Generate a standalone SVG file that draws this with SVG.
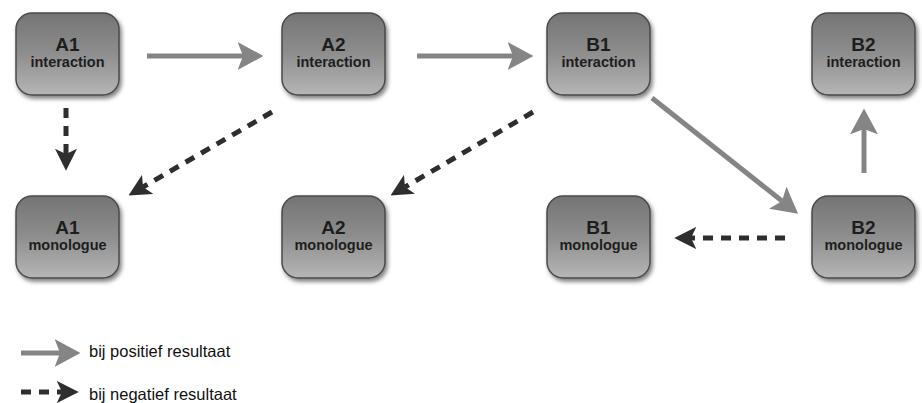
<svg xmlns="http://www.w3.org/2000/svg" width="922" height="403" viewBox="0 0 922 403">
<style>
.box{fill:url(#g);stroke:#4a4a4a;stroke-width:1.5;filter:url(#sh)}
.t1{font-family:"Liberation Sans",Arial,sans-serif;font-weight:bold;font-size:19px;fill:#1e1e1e;text-anchor:middle}
.t2{font-family:"Liberation Sans",Arial,sans-serif;font-weight:bold;font-size:14.5px;fill:#1e1e1e;text-anchor:middle}
.pos{stroke:#858585;stroke-width:5;fill:none;marker-end:url(#hp)}
.neg{stroke:#2e2e2e;stroke-width:5;fill:none;stroke-dasharray:10 8;marker-end:url(#hn)}
.lg{font-family:"Liberation Sans",Arial,sans-serif;font-size:16.5px;fill:#111}
</style>
<defs>
<linearGradient id="g" x1="0" y1="0" x2="0" y2="1">
<stop offset="0" stop-color="#747474"/>
<stop offset="0.5" stop-color="#8e8e8e"/>
<stop offset="1" stop-color="#b6b6b6"/>
</linearGradient>
<filter id="sh" x="-20%" y="-20%" width="150%" height="150%">
<feDropShadow dx="2" dy="3" stdDeviation="2" flood-color="#000" flood-opacity="0.5"/>
</filter>
<marker id="hp" markerUnits="userSpaceOnUse" markerWidth="26" markerHeight="28" viewBox="0 0 24 26" refX="5" refY="13" orient="auto">
<path d="M0,0 L24,13 L0,26 L5,13 Z" fill="#858585"/>
</marker>
<marker id="hn" markerUnits="userSpaceOnUse" markerWidth="22" markerHeight="22" viewBox="0 0 21 21" refX="5" refY="10.5" orient="auto">
<path d="M0,0 L21,10.5 L0,21 L5,10.5 Z" fill="#2e2e2e"/>
</marker>
</defs>

<g id="connectors">
<line class="pos" x1="147" y1="56" x2="243" y2="56"/>
<line class="pos" x1="417" y1="56" x2="513" y2="56"/>
<line class="pos" x1="652" y1="98" x2="782" y2="201"/>
<line class="pos" x1="864" y1="173" x2="864" y2="129"/>
<line class="neg" x1="66" y1="108" x2="66" y2="154"/>
<line class="neg" x1="272" y1="112" x2="143" y2="187"/>
<line class="neg" x1="533" y1="112" x2="405" y2="187"/>
<line class="neg" x1="785" y1="238" x2="691" y2="238"/>
</g>

<g id="A1_interaction"><rect class="box" x="16" y="13" width="103" height="82" rx="16"/><text class="t1" x="67.5" y="51">A1</text><text class="t2" x="67.5" y="67">interaction</text></g>
<g id="A2_interaction"><rect class="box" x="282" y="13" width="103" height="82" rx="16"/><text class="t1" x="333.5" y="51">A2</text><text class="t2" x="333.5" y="67">interaction</text></g>
<g id="B1_interaction"><rect class="box" x="547" y="13" width="103" height="82" rx="16"/><text class="t1" x="598.5" y="51">B1</text><text class="t2" x="598.5" y="67">interaction</text></g>
<g id="B2_interaction"><rect class="box" x="812" y="13" width="103" height="82" rx="16"/><text class="t1" x="863.5" y="51">B2</text><text class="t2" x="863.5" y="67">interaction</text></g>

<g id="A1_monologue"><rect class="box" x="16" y="196" width="103" height="82" rx="16"/><text class="t1" x="67.5" y="234">A1</text><text class="t2" x="67.5" y="250">monologue</text></g>
<g id="A2_monologue"><rect class="box" x="282" y="196" width="103" height="82" rx="16"/><text class="t1" x="333.5" y="234">A2</text><text class="t2" x="333.5" y="250">monologue</text></g>
<g id="B1_monologue"><rect class="box" x="547" y="196" width="103" height="82" rx="16"/><text class="t1" x="598.5" y="234">B1</text><text class="t2" x="598.5" y="250">monologue</text></g>
<g id="B2_monologue"><rect class="box" x="812" y="196" width="103" height="82" rx="16"/><text class="t1" x="863.5" y="234">B2</text><text class="t2" x="863.5" y="250">monologue</text></g>

<g id="legend">
<line class="pos" x1="21" y1="353" x2="60" y2="353"/>
<text class="lg" x="89" y="357">bij positief resultaat</text>
<line class="neg" x1="21" y1="392" x2="62" y2="392" stroke-dasharray="2 9 13 100"/>
<text class="lg" x="89" y="400">bij negatief resultaat</text>
</g>
</svg>
